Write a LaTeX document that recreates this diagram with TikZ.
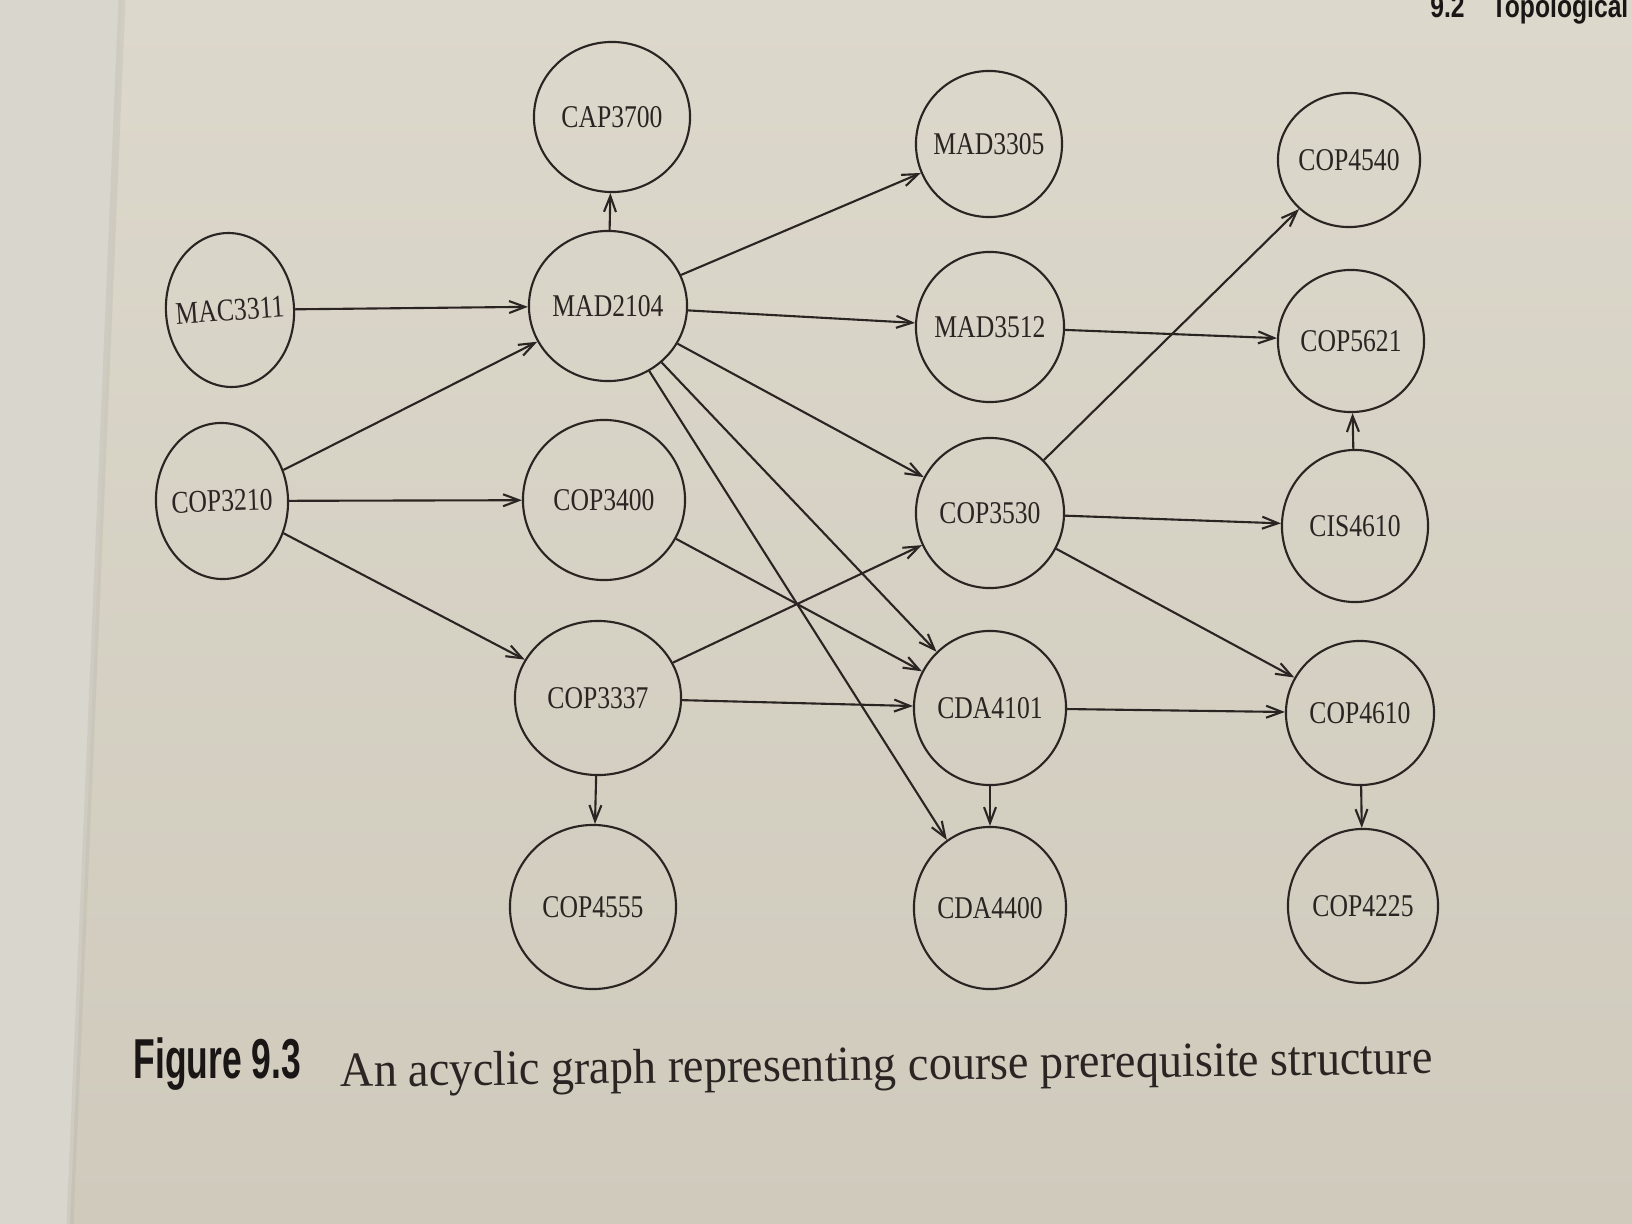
\documentclass[tikz,border=0pt]{standalone}
\usepackage{fontspec}
\setmainfont{Liberation Serif}
\newfontfamily\labelfont[FakeStretch=0.81]{Liberation Serif}
\newfontfamily\figfont[FakeStretch=0.63]{Liberation Sans}
\newfontfamily\capfont[FakeStretch=0.94]{Liberation Serif}
\newfontfamily\headfont[FakeStretch=0.78]{Liberation Sans}
\usetikzlibrary{shapes.geometric, arrows.meta}
\definecolor{paper}{RGB}{220,216,203}
\definecolor{paperdark}{RGB}{207,202,188}
\definecolor{gutter}{RGB}{217,214,206}
\definecolor{ink}{RGB}{42,37,35}
\tikzset{
  course/.style={ellipse, draw=ink, line width=0.6pt, inner xsep=-0.2cm, inner ysep=0pt,
    text=ink, font=\labelfont\fontsize{9}{10}\selectfont},
  arrow/.style={-{Straight Barb[length=4.5pt,width=3.4pt]}, line width=0.6pt, color=ink}
}

\begin{document}
\begin{tikzpicture}[x=0.01cm, y=-0.01cm]
  % page
  \useasboundingbox (0,0) rectangle (1632,1224);
  \clip (0,0) rectangle (1632,1224);
  \shade[top color=paper, bottom color=paperdark] (0,0) rectangle (1632,1224);
  \fill[gutter] (0,0) -- (122,0) -- (70,1224) -- (0,1224) -- cycle;
  \draw[paperdark!80!black, opacity=0.2, line width=2pt] (122,0) -- (70,1224);

  % courses
  \node[course, minimum width=1.56cm, minimum height=1.50cm] (cap3700) at (612,117) {CAP3700};
  \node[course, minimum width=1.46cm, minimum height=1.46cm] (mad3305) at (989,144) {MAD3305};
  \node[course, minimum width=1.42cm, minimum height=1.34cm] (cop4540) at (1349,160) {COP4540};
  \node[course, minimum width=1.28cm, minimum height=1.54cm, rotate=4] (mac3311) at (230,310) {MAC3311};
  \node[course, minimum width=1.58cm, minimum height=1.50cm] (mad2104) at (608,306) {MAD2104};
  \node[course, minimum width=1.48cm, minimum height=1.50cm] (mad3512) at (990,327) {MAD3512};
  \node[course, minimum width=1.46cm, minimum height=1.42cm] (cop5621) at (1351,341) {COP5621};
  \node[course, minimum width=1.32cm, minimum height=1.56cm, rotate=2] (cop3210) at (222,501) {COP3210};
  \node[course, minimum width=1.62cm, minimum height=1.60cm] (cop3400) at (604,500) {COP3400};
  \node[course, minimum width=1.48cm, minimum height=1.50cm] (cop3530) at (990,513) {COP3530};
  \node[course, minimum width=1.46cm, minimum height=1.52cm] (cis4610) at (1355,526) {CIS4610};
  \node[course, minimum width=1.66cm, minimum height=1.54cm] (cop3337) at (598,698) {COP3337};
  \node[course, minimum width=1.52cm, minimum height=1.54cm] (cda4101) at (990,708) {CDA4101};
  \node[course, minimum width=1.48cm, minimum height=1.44cm] (cop4610) at (1360,713) {COP4610};
  \node[course, minimum width=1.66cm, minimum height=1.64cm] (cop4555) at (593,907) {COP4555};
  \node[course, minimum width=1.52cm, minimum height=1.62cm] (cda4400) at (990,908) {CDA4400};
  \node[course, minimum width=1.50cm, minimum height=1.54cm] (cop4225) at (1363,906) {COP4225};

  % prerequisites
  \draw[arrow] (mac3311) -- (mad2104);
  \draw[arrow] (cop3210) -- (mad2104);
  \draw[arrow] (cop3210) -- (cop3400);
  \draw[arrow] (cop3210) -- (cop3337);
  \draw[arrow] (mad2104) -- (cap3700);
  \draw[arrow] (mad2104) -- (mad3305);
  \draw[arrow] (mad2104) -- (mad3512);
  \draw[arrow] (mad2104) -- (cop3530);
  \draw[arrow] (mad2104) -- (cda4101);
  \draw[arrow] (mad2104) -- (cda4400);
  \draw[arrow] (cop3400) -- (cda4101);
  \draw[arrow] (cop3337) -- (cop3530);
  \draw[arrow] (cop3337) -- (cda4101);
  \draw[arrow] (cop3337) -- (cop4555);
  \draw[arrow] (mad3512) -- (cop5621);
  \draw[arrow] (cop3530) -- (cop4540);
  \draw[arrow] (cop3530) -- (cis4610);
  \draw[arrow] (cop3530) -- (cop4610);
  \draw[arrow] (cis4610) -- (cop5621);
  \draw[arrow] (cda4101) -- (cop4610);
  \draw[arrow] (cda4101) -- (cda4400);
  \draw[arrow] (cop4610) -- (cop4225);

  % caption and running head
  \node[anchor=base west, inner sep=0pt, text=ink!60!black,
    font=\figfont\bfseries\fontsize{16}{18}\selectfont] (figlabel) at (133,1078) {Figure 9.3};
  \node[anchor=base west, inner sep=0pt, rotate=0.7, text=ink,
    font=\capfont\fontsize{14}{16}\selectfont] (figcaption) at (340,1087)
    {An acyclic graph representing course prerequisite structure};
  \node[anchor=base east, inner sep=0pt, text=ink!60!black,
    font=\headfont\bfseries\fontsize{9}{10}\selectfont] (runhead) at (1629,18)
    {9.2\hspace{0.27cm}Topological};
\end{tikzpicture}
\end{document}
